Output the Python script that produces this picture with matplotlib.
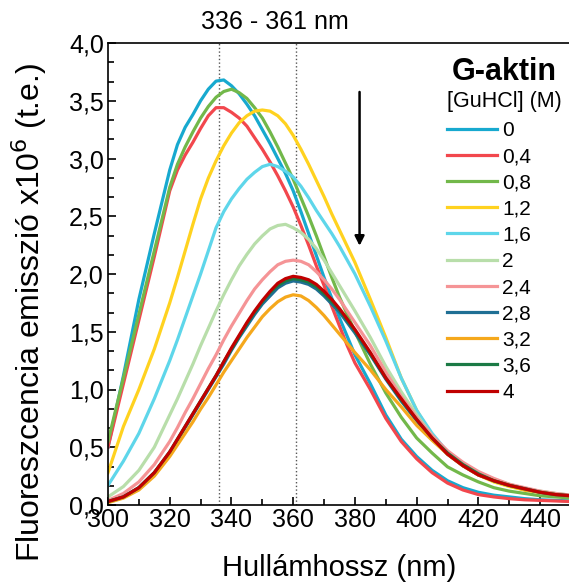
import numpy as np
import matplotlib as mpl
mpl.use('Agg')
from matplotlib import pyplot as plt
from matplotlib.ticker import MultipleLocator, AutoMinorLocator, FuncFormatter

plt.rcParams['font.family'] = ['Liberation Sans', 'DejaVu Sans']

# wavelength grid (nm), denser around the peaks
wl = [300, 305, 310, 315,
      320, 322.5, 325, 327.5, 330, 332.5, 335, 337.5, 340, 342.5, 345, 347.5, 350, 352.5,
      355, 357.5, 360, 362.5, 365, 367.5, 370, 372.5, 375, 377.5, 380,
      385, 390, 395, 400, 405, 410, 415, 420, 425, 430, 435, 440, 445, 450]

# emission x10^6 for each GuHCl concentration
i_0 = [0.50, 1.12, 1.78, 2.35,
       2.90, 3.12, 3.27, 3.38, 3.50, 3.60, 3.67, 3.68, 3.63, 3.56, 3.47, 3.37, 3.25, 3.13,
       3.00, 2.87, 2.72, 2.54, 2.35, 2.16, 1.97, 1.79, 1.62, 1.46, 1.30,
       1.05, 0.78, 0.57, 0.42, 0.30, 0.21, 0.15, 0.11, 0.085, 0.07, 0.055, 0.045, 0.04, 0.035]
i_04 = [0.50, 1.05, 1.60, 2.15,
        2.72, 2.90, 3.03, 3.14, 3.26, 3.37, 3.44, 3.44, 3.40, 3.35, 3.28, 3.18, 3.08, 2.97,
        2.85, 2.72, 2.58, 2.42, 2.25, 2.07, 1.90, 1.72, 1.55, 1.38, 1.23,
        1.00, 0.75, 0.55, 0.40, 0.28, 0.19, 0.13, 0.09, 0.07, 0.055, 0.045, 0.04, 0.035, 0.03]
i_08 = [0.55, 1.10, 1.65, 2.20,
        2.75, 2.95, 3.10, 3.23, 3.35, 3.45, 3.53, 3.58, 3.60, 3.57, 3.52, 3.44, 3.35, 3.23,
        3.10, 2.96, 2.82, 2.66, 2.50, 2.33, 2.15, 1.97, 1.80, 1.65, 1.50,
        1.22, 0.97, 0.76, 0.58, 0.45, 0.33, 0.26, 0.20, 0.15, 0.12, 0.10, 0.08, 0.07, 0.06]
i_12 = [0.28, 0.68, 1.00, 1.35,
        1.75, 1.97, 2.20, 2.43, 2.65, 2.83, 2.98, 3.11, 3.22, 3.31, 3.37, 3.41, 3.42, 3.41,
        3.37, 3.30, 3.20, 3.08, 2.95, 2.81, 2.67, 2.52, 2.38, 2.24, 2.10,
        1.78, 1.45, 1.10, 0.82, 0.60, 0.44, 0.34, 0.26, 0.20, 0.16, 0.13, 0.11, 0.09, 0.08]
i_16 = [0.17, 0.38, 0.62, 0.92,
        1.25, 1.43, 1.62, 1.81, 2.00, 2.20, 2.40, 2.54, 2.65, 2.74, 2.82, 2.88, 2.93, 2.95,
        2.93, 2.89, 2.84, 2.76, 2.66, 2.55, 2.45, 2.35, 2.24, 2.12, 2.00,
        1.72, 1.42, 1.10, 0.82, 0.62, 0.46, 0.35, 0.27, 0.21, 0.17, 0.14, 0.11, 0.09, 0.08]
i_2 = [0.07, 0.16, 0.30, 0.50,
       0.78, 0.92, 1.07, 1.22, 1.38, 1.53, 1.68, 1.82, 1.95, 2.07, 2.17, 2.26, 2.33, 2.39,
       2.42, 2.43, 2.40, 2.36, 2.30, 2.22, 2.12, 2.01, 1.90, 1.79, 1.68,
       1.45, 1.20, 0.98, 0.78, 0.60, 0.46, 0.36, 0.28, 0.22, 0.18, 0.14, 0.12, 0.10, 0.085]
i_24 = [0.04, 0.10, 0.20, 0.35,
        0.55, 0.67, 0.80, 0.92, 1.05, 1.18, 1.30, 1.43, 1.55, 1.66, 1.77, 1.87, 1.95, 2.02,
        2.08, 2.11, 2.12, 2.11, 2.08, 2.02, 1.95, 1.87, 1.78, 1.68, 1.58,
        1.38, 1.15, 0.94, 0.76, 0.60, 0.47, 0.37, 0.29, 0.23, 0.18, 0.15, 0.12, 0.10, 0.085]
i_28 = [0.03, 0.07, 0.15, 0.28,
        0.45, 0.56, 0.67, 0.78, 0.89, 1.00, 1.11, 1.22, 1.34, 1.45, 1.55, 1.65, 1.74, 1.81,
        1.88, 1.92, 1.94, 1.93, 1.91, 1.87, 1.81, 1.74, 1.67, 1.58, 1.49,
        1.30, 1.09, 0.90, 0.73, 0.57, 0.44, 0.34, 0.26, 0.21, 0.17, 0.14, 0.11, 0.09, 0.075]
i_32 = [0.02, 0.06, 0.13, 0.25,
        0.42, 0.52, 0.62, 0.72, 0.83, 0.93, 1.04, 1.15, 1.25, 1.35, 1.45, 1.54, 1.63, 1.70,
        1.76, 1.80, 1.82, 1.81, 1.77, 1.71, 1.64, 1.56, 1.48, 1.40, 1.32,
        1.17, 1.00, 0.85, 0.69, 0.56, 0.44, 0.34, 0.26, 0.21, 0.17, 0.13, 0.11, 0.09, 0.075]
i_36 = [0.03, 0.07, 0.15, 0.28,
        0.46, 0.57, 0.68, 0.79, 0.90, 1.01, 1.12, 1.24, 1.35, 1.46, 1.57, 1.67, 1.76, 1.84,
        1.90, 1.94, 1.96, 1.95, 1.93, 1.89, 1.83, 1.76, 1.69, 1.60, 1.51,
        1.31, 1.10, 0.91, 0.74, 0.58, 0.45, 0.35, 0.27, 0.21, 0.17, 0.14, 0.11, 0.09, 0.08]
i_4 = [0.03, 0.07, 0.15, 0.28,
       0.46, 0.57, 0.68, 0.79, 0.90, 1.01, 1.12, 1.24, 1.36, 1.47, 1.58, 1.68, 1.77, 1.85,
       1.92, 1.96, 1.98, 1.97, 1.95, 1.91, 1.85, 1.78, 1.70, 1.61, 1.52,
       1.32, 1.10, 0.92, 0.74, 0.58, 0.44, 0.34, 0.26, 0.21, 0.17, 0.14, 0.11, 0.09, 0.08]

labels = ['0', '0,4', '0,8', '1,2', '1,6', '2', '2,4', '2,8', '3,2', '3,6', '4']
series = [i_0, i_04, i_08, i_12, i_16, i_2, i_24, i_28, i_32, i_36, i_4]
colors = ['#17a9cf', '#f2474d', '#72b84a', '#ffd21f', '#5ed6ea', '#b8deaa',
          '#f59496', '#1f6f94', '#f5a81c', '#1b7a45', '#c00000']

peaks = [336, 361]

fig = plt.figure(figsize=(5.69, 5.82), dpi=100)
ax = fig.add_axes([108/569, 1 - 505/582, 463/569, 462/582])

for x in peaks:
    ax.axvline(x, color='#555555', ls=':', lw=1.0, zorder=1)

for y, c, lab in zip(series, colors, labels):
    ax.plot(wl, y, color=c, lw=2.3, label=lab, zorder=2, solid_joinstyle='round')

ax.annotate('', xy=(381.5, 2.22), xytext=(381.5, 3.6),
            arrowprops=dict(arrowstyle='-|>', color='black', lw=1.8, mutation_scale=14))

ax.set_xlim(300, 450)
ax.set_ylim(0, 4)
ax.xaxis.set_major_locator(MultipleLocator(20))
ax.xaxis.set_minor_locator(MultipleLocator(10))
ax.yaxis.set_major_locator(MultipleLocator(0.5))
ax.yaxis.set_minor_locator(AutoMinorLocator(3))
ax.yaxis.set_major_formatter(FuncFormatter(lambda v, p: f'{v:.1f}'.replace('.', ',')))
ax.xaxis.set_major_formatter(FuncFormatter(lambda v, p: '' if v > 445 else f'{v:.0f}'))
ax.tick_params(which='both', direction='in', top=False, right=False, width=1.2)
ax.tick_params(axis='x', labelsize=18, pad=2)
ax.tick_params(axis='y', labelsize=18, pad=3)
ax.tick_params(which='major', length=6)
ax.tick_params(which='minor', length=4)
for s in ax.spines.values():
    s.set_linewidth(1.2)

ax.set_xlabel('Hullámhossz (nm)', fontsize=21, labelpad=16)
ax.set_ylabel('Fluoreszcencia emisszió x10$^6$ (t.e.)', fontsize=23)
ax.yaxis.set_label_coords(-0.128, 0.418)

fig.text(275/569, 1 - 22/582, '336 - 361 nm', fontsize=18, ha='center', va='center')
fig.text(557/569, 1 - 72/582, 'G-aktin', fontsize=22, fontweight='bold', ha='right', va='center')
fig.text(447/569, 1 - 102/582, '[GuHCl] (M)', fontsize=15.5, ha='left', va='center')

ax.legend(loc='upper left', bbox_to_anchor=(447/569, 1 - 121/582), bbox_transform=fig.transFigure,
          frameon=False, fontsize=15, handlelength=2.4, handletextpad=0.25, labelspacing=0.345,
          borderpad=0, borderaxespad=0)

fig.savefig('out.png', dpi=100)
